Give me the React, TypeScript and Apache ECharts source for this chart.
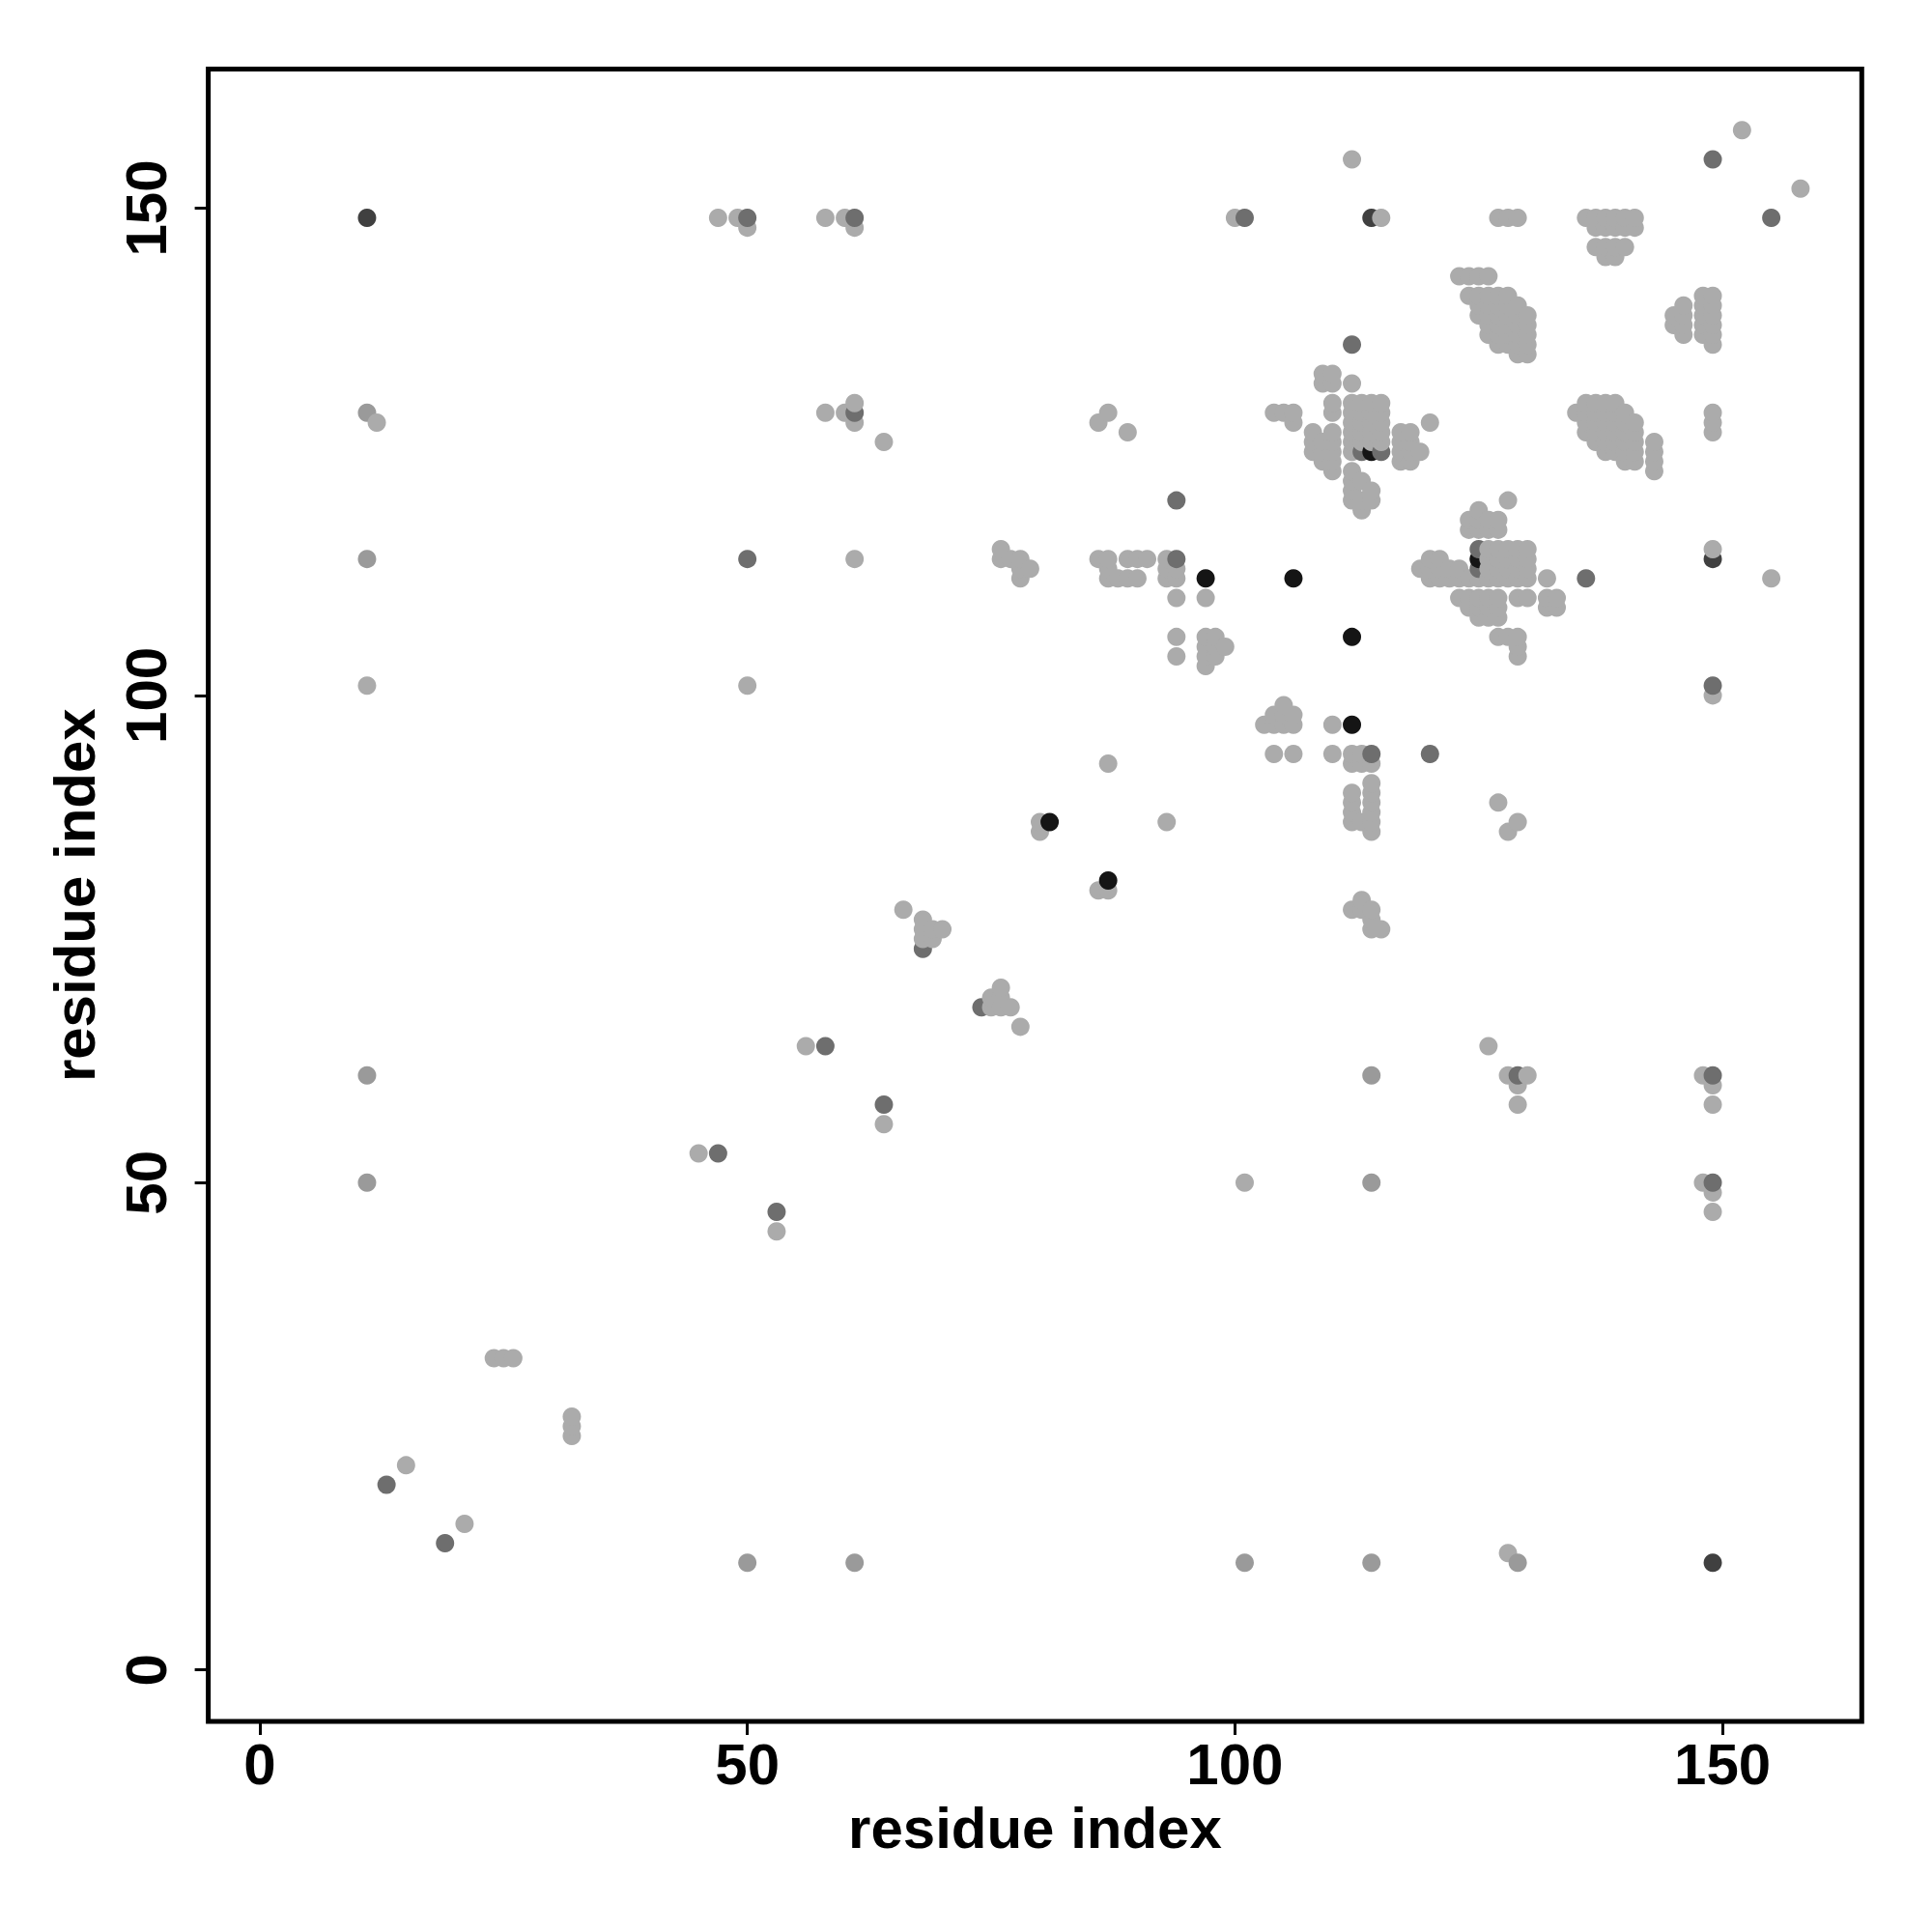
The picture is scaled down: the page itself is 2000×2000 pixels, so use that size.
import React, { useEffect, useRef } from "react";
import * as echarts from "echarts";

// Tick labels
const xTickValues = [0, 50, 100, 150];
const yTickValues = [0, 50, 100, 150];
const axisTitle = "residue index";

// Gray levels of the contact points
const COLOR_LIGHT = "#ababab";
const COLOR_MEDIUM = "#9a9a9a";
const COLOR_DARK = "#6e6e6e";
const COLOR_VDARK = "#404040";
const COLOR_BLACK = "#151515";

// Light contacts [x, y]
const lightPoints: [number, number][] = [
  [12, 128], [11, 101], [15, 21], [21, 15], [24, 32], [25, 32], [26, 32], [32, 26], [32, 25], [32, 24],
  [45, 53], [53, 45], [56, 64], [64, 56],
  [47, 149], [49, 149], [50, 148], [58, 149], [60, 149], [61, 148],
  [58, 129], [60, 129], [61, 130], [61, 128], [64, 126], [50, 101], [61, 114],
  [66, 78], [68, 77], [68, 76], [69, 76], [70, 76], [68, 75], [69, 75],
  [76, 70], [75, 69], [76, 69], [75, 68], [76, 68], [77, 68], [78, 66],
  [86, 80], [87, 80], [80, 87], [80, 86], [87, 93], [93, 87],
  [86, 128], [87, 129], [89, 127],
  [76, 115], [76, 114], [77, 114], [78, 114], [78, 113], [79, 113], [78, 112],
  [86, 114], [87, 114], [87, 113], [87, 112], [88, 112], [89, 112], [90, 112], [89, 114], [90, 114], [91, 114],
  [93, 114], [93, 113], [94, 113], [93, 112], [94, 112],
  [94, 110], [97, 110], [94, 106], [94, 104],
  [97, 106], [98, 106], [97, 105], [98, 105], [99, 105], [97, 104], [98, 104], [97, 103],
  [105, 99], [103, 97], [104, 97], [105, 97], [106, 97], [104, 98], [105, 98], [106, 98],
  [110, 97], [104, 94], [106, 94], [110, 94], [112, 94], [113, 94], [112, 93], [113, 93], [114, 93],
  [112, 90], [112, 89], [112, 88], [112, 87], [113, 87], [114, 91], [114, 90], [114, 89], [114, 88], [114, 87], [114, 86],
  [127, 89], [129, 87], [128, 86],
  [113, 79], [112, 78], [113, 78], [114, 78], [114, 77], [114, 76], [115, 76],
  [126, 64], [128, 61], [130, 61], [129, 60], [129, 58], [148, 61], [149, 60], [149, 58],
  [101, 50], [148, 50], [149, 49], [149, 47], [128, 12],
  [100, 149], [115, 149], [127, 149], [128, 149], [129, 149], [112, 155], [152, 158], [158, 152],
  [149, 129], [149, 128], [149, 127], [149, 115], [155, 112], [149, 100],
];

// Light cluster near (123-130, 135-143)
const clusterA: [number, number][] = [
  [123, 143], [124, 143], [125, 143], [126, 143],
  [124, 141], [125, 141], [126, 141], [127, 141], [128, 141],
  [125, 140], [126, 140], [127, 140], [128, 140], [129, 140],
  [125, 139], [126, 139], [127, 139], [128, 139], [129, 139], [130, 139],
  [126, 138], [127, 138], [128, 138], [129, 138], [130, 138],
  [126, 137], [127, 137], [128, 137], [129, 137], [130, 137],
  [127, 136], [128, 136], [129, 136], [130, 136],
  [129, 135], [130, 135],
];

// Light cluster near (136-141, 145-149)
const clusterB: [number, number][] = [
  [136, 149], [137, 149], [138, 149], [139, 149], [140, 149], [141, 149],
  [137, 148], [138, 148], [139, 148], [140, 148], [141, 148],
  [137, 146], [138, 146], [139, 146], [140, 146],
  [138, 145], [139, 145],
];

// Light cluster near (145-149, 136-141)
const clusterC: [number, number][] = [
  [146, 140], [145, 139], [146, 139], [145, 138], [146, 138], [146, 137],
  [148, 141], [148, 140], [148, 139], [148, 138], [148, 137],
  [149, 141], [149, 140], [149, 139], [149, 138], [149, 137], [149, 136],
];

// Light cluster near (135-143, 123-130)
const clusterD: [number, number][] = [
  [136, 130], [137, 130], [138, 130], [139, 130],
  [135, 129], [136, 129], [137, 129], [138, 129], [139, 129], [140, 129],
  [136, 128], [137, 128], [138, 128], [139, 128], [140, 128], [141, 128],
  [136, 127], [137, 127], [138, 127], [139, 127], [140, 127], [141, 127],
  [137, 126], [138, 126], [139, 126], [140, 126], [141, 126],
  [138, 125], [139, 125], [140, 125], [141, 125],
  [140, 124], [141, 124],
  [143, 126], [143, 125], [143, 124], [143, 123],
];

// Light cluster near (104-120, 119-133)
const clusterE: [number, number][] = [
  [104, 129], [105, 129], [106, 129], [106, 128],
  [109, 133], [110, 133], [109, 132], [110, 132], [112, 132],
  [110, 130], [110, 129],
  [112, 130], [113, 130], [114, 130], [115, 130],
  [112, 129], [113, 129], [114, 129], [115, 129],
  [112, 128], [113, 128], [114, 128], [115, 128],
  [112, 127], [113, 127], [114, 127], [115, 127],
  [112, 126], [113, 126], [114, 126], [115, 126],
  [112, 125],
  [108, 127], [110, 127], [108, 126], [109, 126], [110, 126], [108, 125], [109, 125], [110, 125], [109, 124], [110, 124], [110, 123],
  [112, 123], [112, 122], [113, 122], [112, 121], [114, 121], [112, 120], [113, 120], [114, 120], [113, 119],
  [117, 127], [118, 127], [117, 126], [118, 126], [117, 125], [118, 125], [119, 125], [117, 124], [118, 124],
  [120, 128], [128, 120],
];

// Light cluster near (119-133, 104-119)
const clusterF: [number, number][] = [
  [125, 119], [124, 118], [125, 118], [126, 118], [127, 118], [124, 117], [125, 117], [126, 117], [127, 117],
  [125, 112],
  [126, 115], [127, 115], [128, 115], [129, 115], [130, 115],
  [126, 114], [127, 114], [128, 114], [129, 114], [130, 114],
  [126, 113], [127, 113], [128, 113], [129, 113], [130, 113],
  [126, 112], [127, 112], [128, 112], [129, 112], [130, 112],
  [120, 114], [121, 114], [119, 113], [120, 113], [121, 113], [122, 113], [123, 113],
  [120, 112], [121, 112], [122, 112], [123, 112], [124, 112],
  [123, 110], [124, 110], [125, 110], [126, 110], [127, 110], [129, 110], [130, 110],
  [124, 109], [125, 109], [126, 109], [127, 109],
  [125, 108], [126, 108], [127, 108],
  [127, 106], [128, 106], [129, 106], [129, 105], [129, 104],
  [132, 112], [132, 110], [133, 110], [132, 109], [133, 109],
];

const mediumPoints: [number, number][] = [
  [11, 129], [11, 114], [11, 61], [11, 50], [50, 11], [61, 11], [101, 11], [114, 11], [129, 11], [114, 61], [114, 50],
];

const darkPoints: [number, number][] = [
  [13, 19], [19, 13], [47, 53], [53, 47], [58, 64], [64, 58], [68, 74], [74, 68],
  [50, 149], [61, 149], [61, 129], [50, 114], [94, 120], [94, 114], [101, 149],
  [113, 125], [115, 125], [114, 94], [120, 94], [125, 115], [125, 113],
  [112, 136], [136, 112], [149, 155], [155, 149], [129, 61], [149, 61], [149, 50], [149, 101],
];

const veryDarkPoints: [number, number][] = [
  [11, 149], [114, 149], [149, 114], [149, 11],
];

const blackPoints: [number, number][] = [
  [81, 87], [87, 81], [97, 112], [106, 112], [112, 106], [112, 97], [114, 125], [125, 114],
];

const groups: { pts: [number, number][]; color: string }[] = [
  { pts: lightPoints, color: COLOR_LIGHT },
  { pts: clusterA, color: COLOR_LIGHT },
  { pts: clusterB, color: COLOR_LIGHT },
  { pts: clusterC, color: COLOR_LIGHT },
  { pts: clusterD, color: COLOR_LIGHT },
  { pts: clusterE, color: COLOR_LIGHT },
  { pts: clusterF, color: COLOR_LIGHT },
  { pts: mediumPoints, color: COLOR_MEDIUM },
  { pts: darkPoints, color: COLOR_DARK },
  { pts: veryDarkPoints, color: COLOR_VDARK },
  { pts: blackPoints, color: COLOR_BLACK },
];

const FONT = "Liberation Sans, Arial, Helvetica, sans-serif";

export default function App() {
  const ref = useRef<HTMLDivElement>(null);
  useEffect(() => {
    if (!ref.current) return;
    const chart = echarts.init(ref.current, null, { renderer: "svg" });

    const items: { value: [number, number]; itemStyle: { color: string } }[] = [];
    groups.forEach((g) => g.pts.forEach((p) => items.push({ value: [p[0], p[1]], itemStyle: { color: g.color } })));
    items.sort((a, b) => a.value[0] - b.value[0] || a.value[1] - b.value[1]);

    const labelStyle = { fontSize: 60, fontWeight: "bold" as const, fontFamily: FONT, color: "#000" };

    chart.setOption({
      animation: false,
      backgroundColor: "#ffffff",
      grid: {
        left: 215.6,
        right: 72.7,
        top: 71.4,
        bottom: 218,
        show: true,
        borderColor: "#000",
        borderWidth: 5,
        backgroundColor: "transparent",
      },
      xAxis: {
        type: "value",
        min: -5.28,
        max: 164.28,
        splitLine: { show: false },
        axisLine: { show: false, onZero: false },
        axisTick: {
          show: true,
          inside: false,
          length: 14,
          lineStyle: { color: "#000", width: 3 },
          customValues: xTickValues,
        },
        axisLabel: { ...labelStyle, margin: 14, customValues: xTickValues },
        name: axisTitle,
        nameLocation: "middle",
        nameGap: 80,
        nameTextStyle: labelStyle,
      },
      yAxis: {
        type: "value",
        min: -5.28,
        max: 164.28,
        splitLine: { show: false },
        axisLine: { show: false, onZero: false },
        axisTick: {
          show: true,
          inside: false,
          length: 14,
          lineStyle: { color: "#000", width: 3 },
          customValues: yTickValues,
        },
        axisLabel: { ...labelStyle, margin: 34, rotate: 90, customValues: yTickValues },
        name: axisTitle,
        nameLocation: "middle",
        nameRotate: 90,
        nameGap: 108,
        nameTextStyle: labelStyle,
      },
      series: [
        {
          type: "scatter",
          symbol: "circle",
          symbolSize: 19,
          data: items,
          itemStyle: { opacity: 1 },
        },
      ],
    });
    return () => chart.dispose();
  }, []);
  return (
    <div
      ref={ref}
      style={{ position: "absolute", left: 0, top: 0, width: 2000, height: 2000, background: "#fff" }}
    />
  );
}
